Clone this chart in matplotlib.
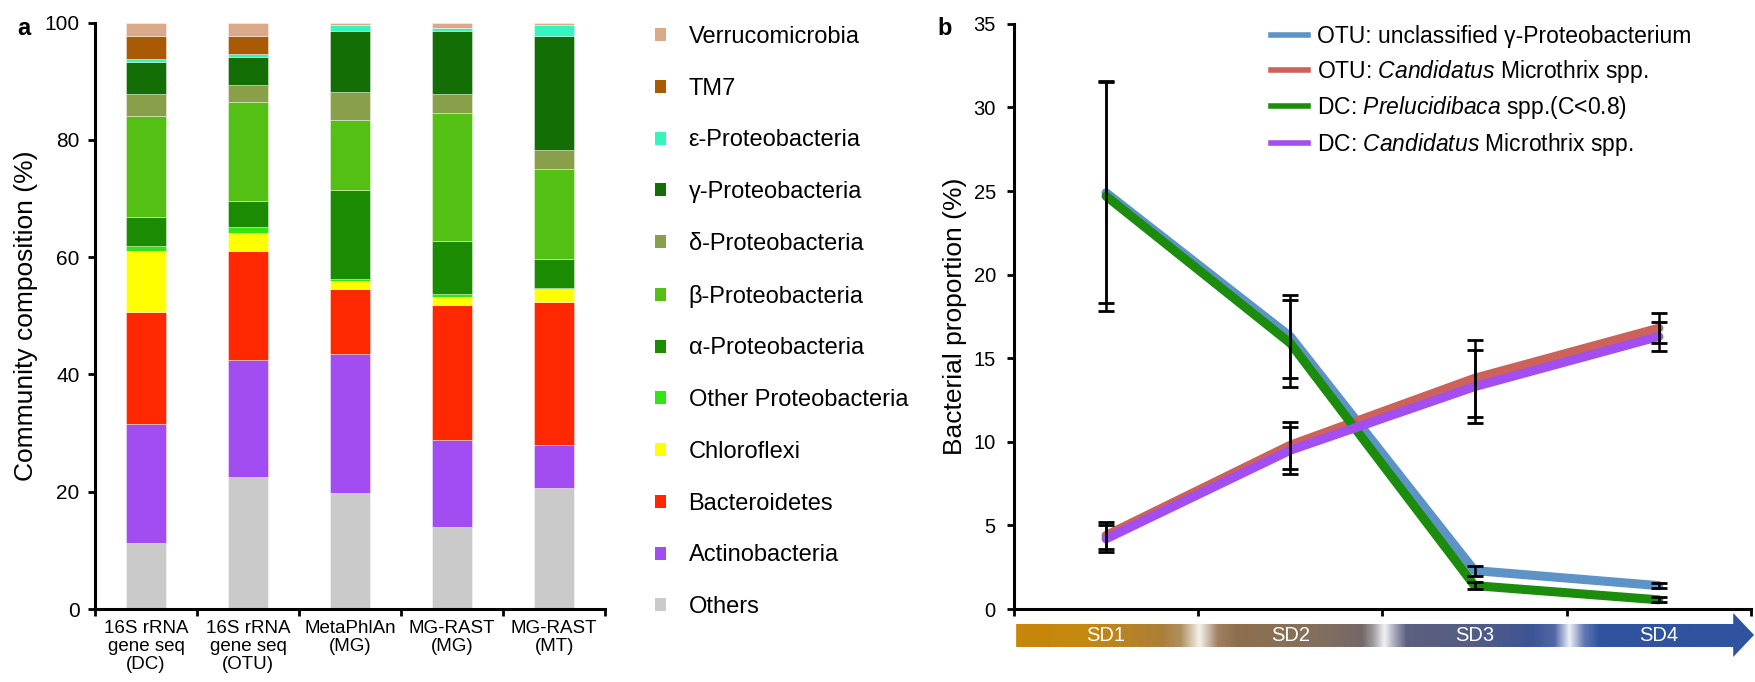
import numpy as np
import matplotlib
matplotlib.use("Agg")
import matplotlib.pyplot as plt
from matplotlib.patches import Patch, Polygon
from matplotlib.lines import Line2D

# ---- data: panel a (stacked community composition, %)
methods = ["16S rRNA\ngene seq\n(DC)", "16S rRNA\ngene seq\n(OTU)", "MetaPhlAn\n(MG)",
           "MG-RAST\n(MG)", "MG-RAST\n(MT)"]
taxa = ["Others", "Actinobacteria", "Bacteroidetes", "Chloroflexi", "Other Proteobacteria",
        "α-Proteobacteria", "β-Proteobacteria", "δ-Proteobacteria", "γ-Proteobacteria",
        "ε-Proteobacteria", "TM7", "Verrucomicrobia"]
others = [11.2, 22.5, 19.7, 13.9, 20.6]
actino = [20.4, 20.0, 23.7, 15.0, 7.3]
bactero = [19.0, 18.6, 11.2, 23.0, 24.4]
chloro = [10.5, 3.0, 1.3, 1.3, 2.3]
other_proteo = [0.8, 1.1, 0.3, 0.5, 0.2]
alpha = [5.0, 4.4, 15.3, 9.1, 4.8]
beta = [17.2, 16.8, 11.8, 21.8, 15.5]
delta = [3.7, 2.9, 4.9, 3.2, 3.1]
gamma = [5.4, 4.9, 10.4, 10.8, 19.5]
epsilon = [0.5, 0.4, 0.9, 0.4, 1.9]
tm7 = [4.0, 3.1, 0.0, 0.0, 0.0]
verruco = [2.3, 2.3, 0.5, 1.0, 0.4]
taxa_values = [others, actino, bactero, chloro, other_proteo, alpha, beta, delta,
               gamma, epsilon, tm7, verruco]
taxa_colors = ["#CACACA", "#A24DF2", "#FF2800", "#FFFF00", "#33E612", "#1B8C02",
               "#55C014", "#8A9F4A", "#126E05", "#33F5BE", "#A85A05", "#D9A98A"]

# ---- data: panel b (bacterial proportion over SD1-SD4, %)
stages = ["SD1", "SD2", "SD3", "SD4"]
otu_gamma = [24.9, 16.3, 2.3, 1.4]
otu_gamma_err = [6.6, 2.5, 0.3, 0.15]
otu_micro = [4.4, 9.8, 13.8, 16.8]
otu_micro_err = [0.8, 1.4, 2.3, 0.9]
dc_prelu = [24.7, 15.9, 1.4, 0.55]
dc_prelu_err = [6.9, 2.6, 0.2, 0.15]
dc_micro = [4.2, 9.5, 13.3, 16.3]
dc_micro_err = [0.8, 1.4, 2.2, 0.85]

font = "Liberation Sans"
plt.rcParams['font.family'] = [font, 'DejaVu Sans']
plt.rcParams['mathtext.fontset'] = 'custom'
plt.rcParams['mathtext.rm'] = font
plt.rcParams['mathtext.it'] = font + ':italic'

fig = plt.figure(figsize=(17.56, 6.82), dpi=100)

# ================= panel a
ax1 = fig.add_axes([0.0541, 0.1070, 0.2905, 0.8600])
xpos = np.arange(len(methods)) + 0.5
bottom = np.zeros(len(methods))
for name, vals, col in zip(taxa, taxa_values, taxa_colors):
    ax1.bar(xpos, vals, 0.39, bottom=bottom, color=col, label=name,
            edgecolor=(1, 1, 1, 0.45), linewidth=0.6)
    bottom += np.array(vals)

ax1.set_xlim(0, 5)
ax1.set_ylim(0, 100)
ax1.set_yticks([0, 20, 40, 60, 80, 100])
ax1.tick_params(axis='y', labelsize=15, width=2, length=5, pad=6)
ax1.set_xticks(np.arange(6))
ax1.set_xticklabels([])
ax1.tick_params(axis='x', which='major', width=2, length=5)
ax1.set_xticks(xpos, minor=True)
ax1.set_xticklabels(methods, minor=True, fontsize=13.5, linespacing=1.08)
ax1.tick_params(axis='x', which='minor', length=0, pad=8)
for s in ['top', 'right']:
    ax1.spines[s].set_visible(False)
for s in ['left', 'bottom']:
    ax1.spines[s].set_linewidth(2.2)
ax1.set_ylabel("Community composition (%)", fontsize=19, labelpad=5)

handles = [Patch(facecolor=c) for c in taxa_colors][::-1]
fig.legend(handles, taxa[::-1], loc='upper left', bbox_to_anchor=(0.373, 0.962),
           frameon=False, fontsize=17, handlelength=0.47, handleheight=0.47,
           handletextpad=0.95, labelspacing=1.26, borderaxespad=0, borderpad=0)

fig.text(0.010, 0.975, "a", fontsize=17, fontweight='bold', va='top')

# ================= panel b
ax2 = fig.add_axes([0.5774, 0.1070, 0.4197, 0.8580])
xs = np.arange(len(stages)) + 0.5
series = [
    (otu_gamma, otu_gamma_err, "#5E93C8", "OTU: unclassified γ-Proteobacterium"),
    (otu_micro, otu_micro_err, "#CC6259", r"OTU: $\it{Candidatus}$ Microthrix spp."),
    (dc_prelu, dc_prelu_err, "#1C8C0C", r"DC: $\it{Prelucidibaca}$ spp.(C<0.8)"),
    (dc_micro, dc_micro_err, "#A24EF0", r"DC: $\it{Candidatus}$ Microthrix spp."),
]
leg_handles = []
for i, (vals, err, col, lab) in enumerate(series):
    ax2.plot(xs, vals, color=col, lw=6.5, solid_capstyle='round',
             solid_joinstyle='round', zorder=2 + i)
    ax2.errorbar(xs, vals, yerr=err, fmt='none', ecolor='black', elinewidth=1.8,
                 capsize=5.5, capthick=2, zorder=10)
    leg_handles.append(Line2D([0], [0], color=col, lw=4))

ax2.set_xlim(0, 4)
ax2.set_ylim(0, 35)
ax2.set_yticks([0, 5, 10, 15, 20, 25, 30, 35])
ax2.tick_params(axis='y', labelsize=14.5, width=2, length=5, pad=8)
ax2.set_xticks(np.arange(5))
ax2.set_xticklabels([])
ax2.tick_params(axis='x', width=2, length=5)
for s in ['top', 'right']:
    ax2.spines[s].set_visible(False)
for s in ['left', 'bottom']:
    ax2.spines[s].set_linewidth(2.2)
ax2.set_ylabel("Bacterial proportion (%)", fontsize=19, labelpad=5)

ax2.legend(leg_handles, [s[3] for s in series], loc='upper left',
           bbox_to_anchor=(0.349, 0.998), frameon=False, fontsize=16.5,
           handlelength=1.6, handletextpad=0.4, labelspacing=0.42,
           borderaxespad=0, borderpad=0)

fig.text(0.534, 0.975, "b", fontsize=17, fontweight='bold', va='top')

# ---- gradient arrow below panel b
axa = fig.add_axes([0.5774, 0.0367, 0.4215, 0.0645])
axa.set_xlim(0, 1.0043)
axa.set_ylim(0, 1)
axa.axis('off')
stops = [0.0, 0.10, 0.20, 0.225, 0.25, 0.275, 0.30, 0.40, 0.47, 0.485, 0.50, 0.515,
         0.53, 0.62, 0.70, 0.73, 0.75, 0.77, 0.79, 1.0]
cols = ["#C8860A", "#C48812", "#AC7F38", "#B09060", "#F5F2EC", "#A08060", "#8E6E4C",
        "#85705C", "#746868", "#A09CA0", "#F2F2F4", "#A0A2B4", "#5C6080", "#535C85",
        "#3D5496", "#5068A8", "#EEF0F6", "#6078B4", "#30539F", "#2F539F"]
rgb = np.array([matplotlib.colors.to_rgb(c) for c in cols])
gx = np.linspace(0, 1, 800)
grad = np.stack([np.interp(gx, stops, rgb[:, k]) for k in range(3)], axis=-1)
img = axa.imshow(grad[np.newaxis, :, :], extent=[0, 1.0043, 0, 1], aspect='auto',
                 zorder=1, interpolation='bilinear')
bar_lo, bar_hi, head_x = 0.227, 0.75, 0.976
arrow = Polygon([[0.003, bar_lo], [head_x, bar_lo], [head_x, 0], [1.0043, 0.5],
                 [head_x, 1], [head_x, bar_hi], [0.003, bar_hi]], closed=True,
                transform=axa.transData, facecolor='none', edgecolor='none')
axa.add_patch(arrow)
img.set_clip_path(arrow)
for i, st in enumerate(stages):
    axa.text(xs[i] / 4, (bar_lo + bar_hi) / 2, st, color='white', ha='center',
             va='center', fontsize=14.5, zorder=3)

fig.savefig("out.png", dpi=100)
